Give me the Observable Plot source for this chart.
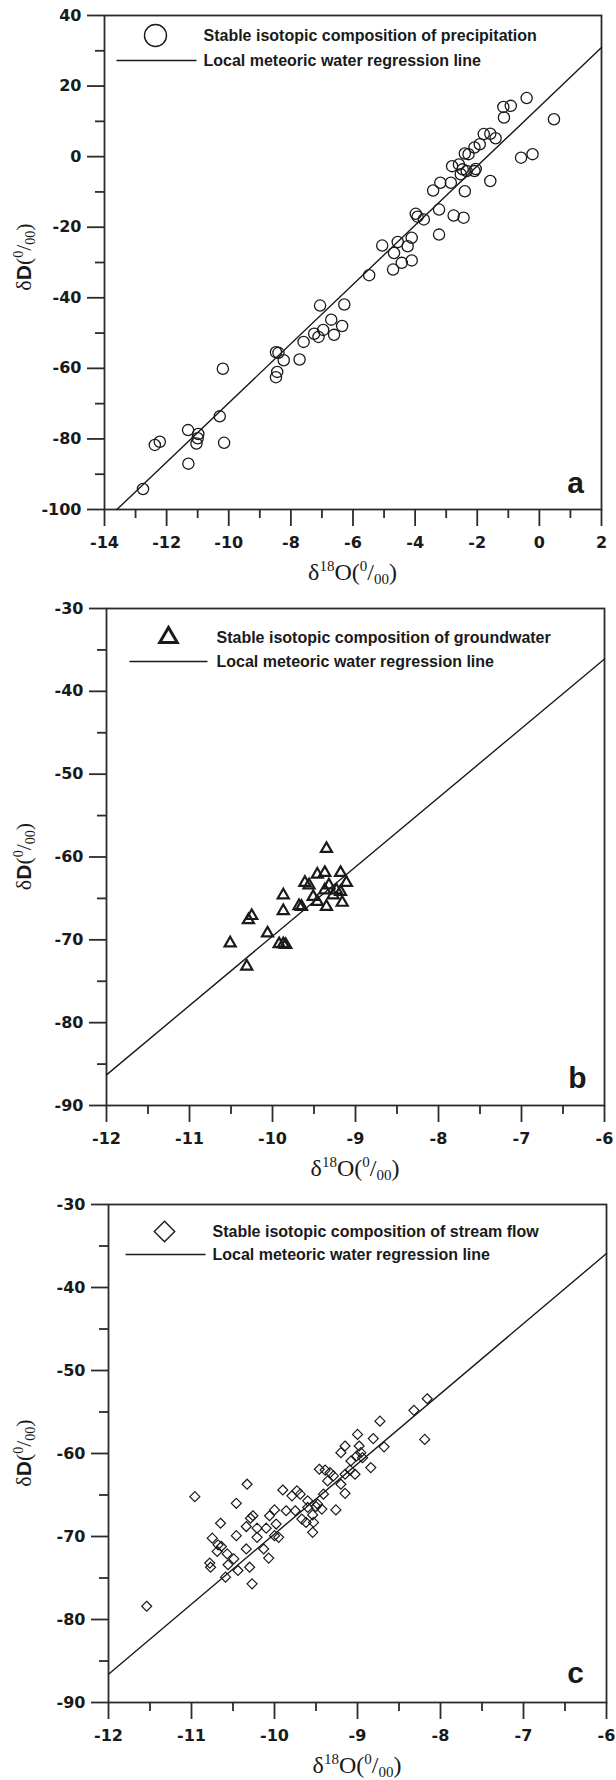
<!DOCTYPE html>
<html>
<head>
<meta charset="utf-8">
<script src="https://cdn.jsdelivr.net/npm/d3@7"></script>
<script src="https://cdn.jsdelivr.net/npm/@observablehq/plot@0.6"></script>
<style>
  body { margin: 0; background: #fff; }
  #chart svg { display: block; }
  #chart g[aria-label="x-axis tick label"], #chart g[aria-label="y-axis tick label"] {
    font-family: "DejaVu Sans", sans-serif; font-size: 16px; font-weight: bold;
  }
</style>
</head>
<body>
<div id="chart"></div>
<script>
// ---------- Panel a: precipitation ----------
const precipO = [-0.41, -1.16, -0.92, -1.14, 0.47, -1.79, -1.58, -1.41, -1.92, -2.09, -2.28, -2.40, -0.59, -0.22,
  -2.81, -2.59, -2.47, -2.34, -2.53, -2.09, -2.05, -1.58, -2.85, -3.19, -2.40, -3.42, -3.98, -3.92, -3.72,
  -3.23, -2.76, -2.44, -3.23, -4.11, -4.24, -4.56, -5.06, -4.68, -4.43, -4.11, -4.71, -5.48,
  -7.06, -6.28, -6.70, -6.35, -6.96, -6.61, -7.25, -7.11, -7.59, -7.72, -8.23, -8.48, -8.40, -8.44, -8.48,
  -10.19, -10.29, -10.15, -11.31, -10.98, -11.04, -11.00, -12.22, -12.38, -11.30, -12.76];
const precipD = [16.6, 14.1, 14.4, 11.1, 10.6, 6.4, 6.5, 5.2, 3.5, 2.6, 0.7, 0.9, -0.3, 0.7,
  -2.7, -2.2, -3.6, -4.1, -5.0, -4.1, -3.5, -6.9, -7.4, -7.4, -9.8, -9.6, -16.2, -17.0, -17.8,
  -15.0, -16.7, -17.3, -22.1, -23.0, -25.4, -24.2, -25.2, -27.3, -30.1, -29.4, -32.0, -33.6,
  -42.2, -41.9, -46.2, -48.0, -49.1, -50.5, -50.2, -51.1, -52.5, -57.5, -57.7, -55.4, -55.6, -61.0, -62.5,
  -60.1, -73.6, -81.1, -77.5, -78.6, -81.3, -79.8, -80.8, -81.7, -87.0, -94.2];
const lmwlA_O = [-13.6, 2];
const lmwlA_D = [-100, 30.9];
const ticksA_x = [-14, -12, -10, -8, -6, -4, -2, 0, 2];
const minorA_x = [-13, -11, -9, -7, -5, -3, -1, 1];
const ticksA_y = [-100, -80, -60, -40, -20, 0, 20, 40];
const minorA_y = [-90, -70, -50, -30, -10, 10, 30];

// ---------- Panel b: groundwater ----------
const groundO = [-9.35, -9.46, -9.37, -9.18, -9.61, -9.56, -9.11, -9.32, -9.87, -9.51, -9.37, -9.23, -9.27, -9.18,
  -9.46, -9.16, -9.35, -9.68, -9.65, -9.87, -10.25, -10.29, -10.06, -10.51, -9.92, -9.87, -9.84, -10.31];
const groundD = [-59.0, -62.1, -61.9, -61.9, -63.1, -63.4, -63.1, -63.4, -64.6, -64.8, -64.0, -64.0, -64.6, -64.2,
  -65.4, -65.5, -66.0, -65.9, -66.0, -66.5, -67.1, -67.6, -69.2, -70.4, -70.5, -70.5, -70.6, -73.2];
const lmwlB_O = [-12, -6];
const lmwlB_D = [-86.3, -36.1];

// ---------- Panel c: stream flow ----------
const streamO = [-8.16, -8.32, -8.73, -9.00, -8.81, -8.19,
  -10.96, -11.54, -10.33, -10.46, -10.65, -10.75, -10.68, -10.64, -10.69, -10.78, -10.77, -10.57, -10.56, -10.49,
  -10.59, -10.44, -10.46, -10.34, -10.34, -10.29, -10.30, -10.27, -10.21, -10.21, -10.26, -10.13, -10.07, -10.06,
  -10.10, -10.00, -10.00, -9.95, -9.98, -9.90, -9.86, -9.79, -9.75, -9.73, -9.69, -9.67, -9.62, -9.60, -9.60,
  -9.54, -9.53, -9.54, -9.48, -9.50, -9.43, -9.41, -9.46, -9.39, -9.33, -9.29, -9.36, -9.26, -9.20, -9.15,
  -9.15, -9.09, -9.03, -9.08, -9.01, -8.96, -8.94, -8.84, -9.20, -9.15, -8.98, -8.68];
const streamD = [-53.4, -54.8, -56.1, -57.7, -58.2, -58.3,
  -65.2, -78.4, -63.7, -66.0, -68.4, -70.2, -71.0, -71.2, -71.8, -73.2, -73.7, -72.1, -73.4, -72.7,
  -74.9, -74.1, -69.9, -71.5, -68.8, -67.8, -73.7, -75.7, -70.1, -69.0, -67.5, -71.5, -72.6, -67.5,
  -69.0, -66.8, -69.9, -70.1, -68.5, -64.4, -66.9, -65.1, -66.9, -64.5, -64.9, -67.9, -68.3, -66.5, -65.7,
  -67.4, -68.3, -69.5, -66.1, -66.4, -66.7, -64.9, -61.9, -62.0, -62.3, -62.7, -63.3, -66.8, -63.7, -64.8,
  -62.5, -62.0, -62.5, -60.9, -60.3, -59.9, -60.5, -61.7, -59.9, -59.1, -59.1, -59.2];
const lmwlC_O = [-12, -6];
const lmwlC_D = [-86.6, -35.9];

const ticksBC_x = [-12, -11, -10, -9, -8, -7, -6];
const minorBC_x = [-11.5, -10.5, -9.5, -8.5, -7.5, -6.5];
const ticksBC_y = [-90, -80, -70, -60, -50, -40, -30];
const minorBC_y = [-85, -75, -65, -55, -45, -35];

const legendLine = "Local meteoric water regression line";
const legendA = "Stable isotopic composition of precipitation";
const legendB = "Stable isotopic composition of groundwater";
const legendC = "Stable isotopic composition of stream flow";

// ---------- helpers ----------
const zip = (xs, ys) => xs.map((x, i) => ({o: x, d: ys[i]}));
const INK = "#1a1a1a";
const AX = "#2b2b2b";
const TICKFONT = {fontFamily: "'DejaVu Sans', sans-serif", fontSize: 16, fontWeight: "bold"};

const diamondSym = {
  draw(ctx, size) {
    const r = Math.sqrt(size) * 0.62625;
    ctx.moveTo(0, -r); ctx.lineTo(r, 0); ctx.lineTo(0, r); ctx.lineTo(-r, 0); ctx.closePath();
  }
};
function lineSym(half) {
  return { draw(ctx) { ctx.moveTo(-half, 0); ctx.lineTo(half, 0); } };
}

function panel(cfg) {
  const svg = Plot.plot({
    width: 616,
    height: cfg.height,
    marginLeft: cfg.mL, marginRight: cfg.mR, marginTop: cfg.mT, marginBottom: cfg.mB,
    style: {fontFamily: "'Liberation Sans', Arial, sans-serif", fontSize: "16px", fontWeight: "bold", color: INK, background: "#fff", overflow: "visible"},
    x: {domain: cfg.xDomain},
    y: {domain: cfg.yDomain},
    marks: [
      Plot.axisX(cfg.xMajor, {tickSize: 17, tickPadding: 10, tickFormat: d => String(d), label: null, stroke: AX, strokeWidth: 1.8, fill: INK, ...TICKFONT}),
      Plot.axisX(cfg.xMinor, {tickSize: 9, tickFormat: () => "", fill: "none", label: null, stroke: AX, strokeWidth: 1.8}),
      Plot.axisY(cfg.yMajor, {tickSize: 17, tickPadding: 6, tickFormat: d => String(d), label: null, stroke: AX, strokeWidth: 1.8, fill: INK, ...TICKFONT}),
      Plot.axisY(cfg.yMinor, {tickSize: 9, tickFormat: () => "", fill: "none", label: null, stroke: AX, strokeWidth: 1.8}),
      Plot.frame({stroke: AX, strokeWidth: 1.8}),
      Plot.line(cfg.line, {x: "o", y: "d", stroke: INK, strokeWidth: 1.4}),
      Plot.dot(cfg.points, {x: "o", y: "d", symbol: cfg.symbol, r: cfg.r, stroke: INK, strokeWidth: cfg.sw, fill: "none"}),
      // legend
      Plot.dot([cfg.legendText], {frameAnchor: "top-left", dx: cfg.leg.sx, dy: cfg.leg.sy, symbol: cfg.symbol, r: cfg.leg.r, stroke: INK, strokeWidth: cfg.leg.sw, fill: "none"}),
      Plot.text([cfg.legendText], {frameAnchor: "top-left", dx: cfg.leg.tx, dy: cfg.leg.sy, textAnchor: "start", lineAnchor: "middle", fontFamily: "'Liberation Sans', Arial, sans-serif", fontSize: 16, fontWeight: "bold", fill: INK}),
      Plot.dot([legendLine], {frameAnchor: "top-left", dx: cfg.leg.lx, dy: cfg.leg.ly, symbol: lineSym(cfg.leg.lh), stroke: INK, strokeWidth: 1.4, fill: "none"}),
      Plot.text([legendLine], {frameAnchor: "top-left", dx: cfg.leg.tx, dy: cfg.leg.ly, textAnchor: "start", lineAnchor: "middle", fontFamily: "'Liberation Sans', Arial, sans-serif", fontSize: 16, fontWeight: "bold", fill: INK}),
      // panel letter
      Plot.text([cfg.letter], {frameAnchor: "bottom-right", dx: cfg.letterDx, dy: cfg.letterDy, textAnchor: "middle", lineAnchor: "middle", fontFamily: "'Liberation Sans', Arial, sans-serif", fontSize: 30, fontWeight: "bold", fill: INK})
    ]
  });

  // axis titles with super/subscripts
  const s = d3.select(svg);
  const cx = cfg.mL + (616 - cfg.mL - cfg.mR) / 2;
  const cy = cfg.mT + (cfg.height - cfg.mT - cfg.mB) / 2;
  const serif = "'Liberation Serif', 'DejaVu Serif', serif";
  const xt = s.append("text")
    .attr("x", cx).attr("y", cfg.height - cfg.mB + cfg.xTitleY)
    .attr("text-anchor", "middle").attr("font-family", serif)
    .attr("font-size", 24).attr("font-weight", "normal").attr("fill", INK);
  xt.append("tspan").text("δ");
  xt.append("tspan").attr("font-size", 15).attr("dy", -9).text("18");
  xt.append("tspan").attr("dy", 9).text("O(");
  xt.append("tspan").attr("font-size", 15).attr("dy", -9).text("0");
  xt.append("tspan").attr("dy", 9).text("/");
  xt.append("tspan").attr("font-size", 15).attr("dy", 4).text("00");
  xt.append("tspan").attr("dy", -4).text(")");

  const yt = s.append("text")
    .attr("transform", `translate(${cfg.yTitleX},${cy + cfg.yTitleDy}) rotate(-90)`)
    .attr("text-anchor", "middle").attr("font-family", serif)
    .attr("font-size", 22).attr("font-weight", "normal").attr("fill", INK);
  yt.append("tspan").text("δ");
  yt.append("tspan").attr("font-family", "'Liberation Sans', Arial, sans-serif").attr("font-weight", "bold").attr("font-size", 21).text("D");
  yt.append("tspan").text("(");
  yt.append("tspan").attr("font-size", 14).attr("dy", -8).text("0");
  yt.append("tspan").attr("dy", 8).text("/");
  yt.append("tspan").attr("font-size", 14).attr("dy", 4).text("00");
  yt.append("tspan").attr("dy", -4).text(")");
  return svg;
}

const root = document.getElementById("chart");

root.appendChild(panel({
  height: 590, mL: 104, mR: 15, mT: 15, mB: 81,
  xDomain: [-14, 2], yDomain: [-100, 40],
  xMajor: ticksA_x, xMinor: minorA_x, yMajor: ticksA_y, yMinor: minorA_y,
  line: zip(lmwlA_O, lmwlA_D), points: zip(precipO, precipD),
  symbol: "circle", r: 5.6, sw: 1.3,
  legendText: legendA,
  leg: {sx: 51, sy: 20, r: 11, sw: 1.4, tx: 99, lx: 52, ly: 45, lh: 40},
  letter: "a", letterDx: -26, letterDy: -26,
  xTitleY: 71, yTitleX: 31, yTitleDy: -5
}));

root.appendChild(panel({
  height: 596, mL: 106, mR: 12, mT: 18, mB: 81,
  xDomain: [-12, -6], yDomain: [-90, -30],
  xMajor: ticksBC_x, xMinor: minorBC_x, yMajor: ticksBC_y, yMinor: minorBC_y,
  line: zip(lmwlB_O, lmwlB_D), points: zip(groundO, groundD),
  symbol: "triangle", r: 4.1, sw: 2.2,
  legendText: legendB,
  leg: {sx: 62, sy: 29, r: 6.5, sw: 3, tx: 110, lx: 62, ly: 53, lh: 39},
  letter: "b", letterDx: -27, letterDy: -27,
  xTitleY: 71, yTitleX: 31, yTitleDy: 0
}));

root.appendChild(panel({
  height: 594, mL: 108, mR: 10, mT: 18, mB: 78,
  xDomain: [-12, -6], yDomain: [-90, -30],
  xMajor: ticksBC_x, xMinor: minorBC_x, yMajor: ticksBC_y, yMinor: minorBC_y,
  line: zip(lmwlC_O, lmwlC_D), points: zip(streamO, streamD),
  symbol: diamondSym, r: 4.5, sw: 1.2,
  legendText: legendC,
  leg: {sx: 56, sy: 27, r: 9.2, sw: 1.4, tx: 104, lx: 57, ly: 50, lh: 40},
  letter: "c", letterDx: -31, letterDy: -29,
  xTitleY: 71, yTitleX: 31, yTitleDy: 0
}));
</script>
</body>
</html>
